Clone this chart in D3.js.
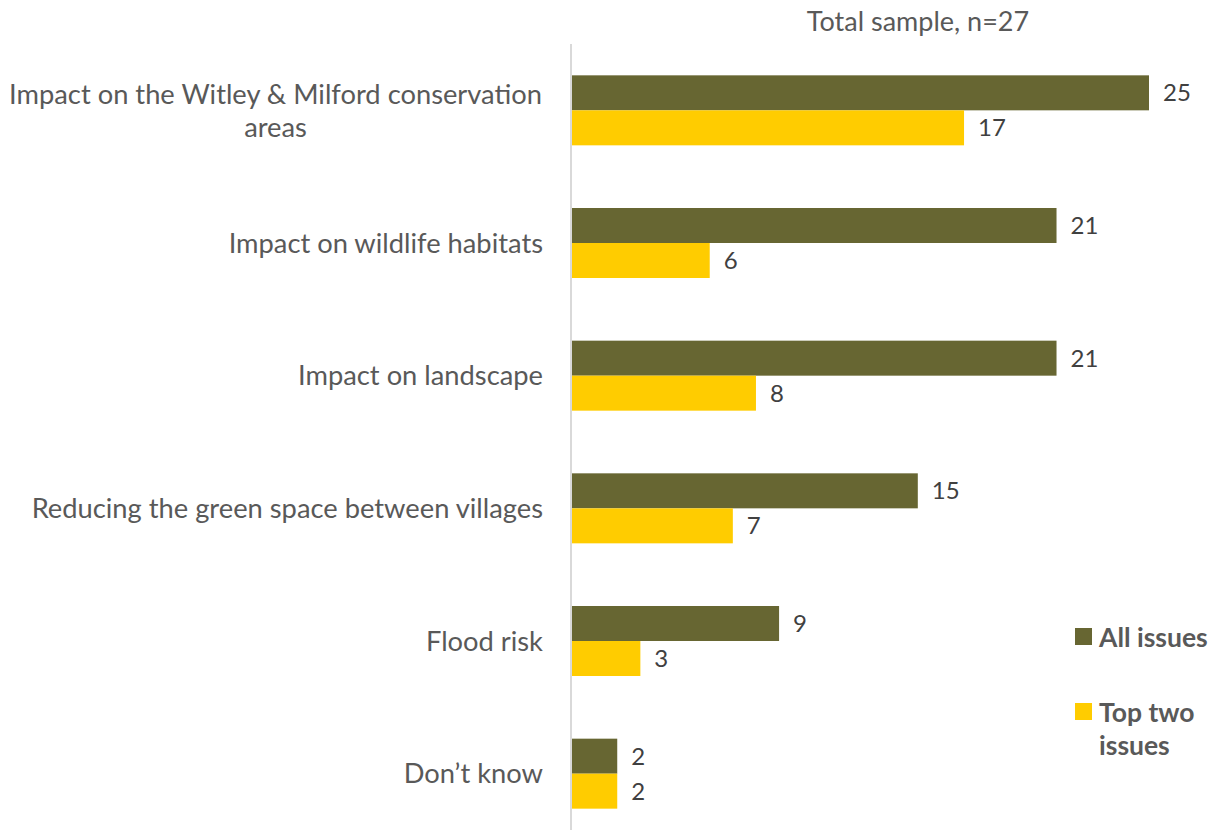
<!doctype html>
<html lang="en">
  <head>
    <meta charset="utf-8">
    <title>Total sample, n=27</title>
    <script src="https://d3js.org/d3.v7.min.js"></script>
    <style>
      body { margin: 0; background: white; }
      text { font-family: Lato, "Open Sans", sans-serif; }
    </style>
  </head>
  <body>
    <svg width="1219" height="830"></svg>
    <script>
      var categories = [
        ['Impact on the Witley & Milford conservation', 'areas'],
        ['Impact on wildlife habitats'],
        ['Impact on landscape'],
        ['Reducing the green space between villages'],
        ['Flood risk'],
        ['Don\u2019t know']
      ];
      var seriesNames = ['All issues', 'Top two issues'];
      var allIssues = [25, 21, 21, 15, 9, 2];
      var topTwo = [17, 6, 8, 7, 3, 2];
      var colors = ['#676632', '#ffcc00'];

      var svg = d3.select('svg');
      var keys = categories.map(function(c, i){ return i; });

      var x = d3.scaleLinear().domain([0, 25]).range([571, 1149]);
      var y0 = d3.scaleBand().domain(keys).range([44, 840]);
      var y1 = d3.scaleBand().domain([0, 1]).range([0, 70]);

      var rows = [];
      keys.forEach(function(k){
        rows.push({cat: k, s: 0, v: allIssues[k]});
        rows.push({cat: k, s: 1, v: topTwo[k]});
      });
      function barY(d){ return y0(d.cat) + (y0.bandwidth() - 70) / 2 + y1(d.s); }

      svg.append('text')
        .attr('x', 918).attr('y', 31)
        .attr('text-anchor', 'middle')
        .style('font-size', '27px').style('fill', '#595959')
        .text('Total sample, n=27');

      svg.selectAll('rect.bar').data(rows).enter().append('rect')
        .attr('class', 'bar')
        .attr('x', x(0))
        .attr('y', barY)
        .attr('width', function(d){ return x(d.v) - x(0); })
        .attr('height', y1.bandwidth())
        .style('fill', function(d){ return colors[d.s]; });

      svg.append('line')
        .attr('x1', 571).attr('x2', 571)
        .attr('y1', 44).attr('y2', 840)
        .style('stroke', '#d9d9d9').style('stroke-width', 2);

      svg.selectAll('text.val').data(rows).enter().append('text')
        .attr('class', 'val')
        .attr('x', function(d){ return x(d.v) + 14; })
        .attr('y', function(d){ return barY(d) + y1.bandwidth() / 2; })
        .attr('dy', '0.36em')
        .style('font-size', '24px').style('fill', '#404040')
        .text(function(d){ return d.v; });

      // category labels, multi-line ones centred inside a right-aligned block
      keys.forEach(function(k){
        var lines = categories[k];
        var cy = y0(k) + y0.bandwidth() / 2;
        var g = svg.append('text')
          .style('font-size', '27.3px').style('fill', '#595959');
        lines.forEach(function(l, i){
          g.append('tspan').attr('x', 0)
            .attr('y', cy + (i - (lines.length - 1) / 2) * 33).attr('dy', '0.36em').text(l);
        });
        var w = g.node().getBBox().width;
        if (lines.length > 1) {
          g.attr('text-anchor', 'middle').selectAll('tspan').attr('x', 542 - w / 2);
        } else {
          g.attr('text-anchor', 'end').selectAll('tspan').attr('x', 543);
        }
      });

      // legend
      var legend = [['All issues'], ['Top two', 'issues']];
      var ly = [637, 712];
      legend.forEach(function(lines, i){
        svg.append('rect')
          .attr('x', 1075).attr('y', ly[i] - 9)
          .attr('width', 17).attr('height', 17)
          .style('fill', colors[i]);
        var t = svg.append('text')
          .style('font-size', '26.5px').style('font-weight', 'bold').style('fill', '#595959');
        lines.forEach(function(l, j){
          t.append('tspan').attr('x', 1099).attr('y', ly[i] + j * 33).attr('dy', '0.36em').text(l);
        });
      });
    </script>
  </body>
</html>
